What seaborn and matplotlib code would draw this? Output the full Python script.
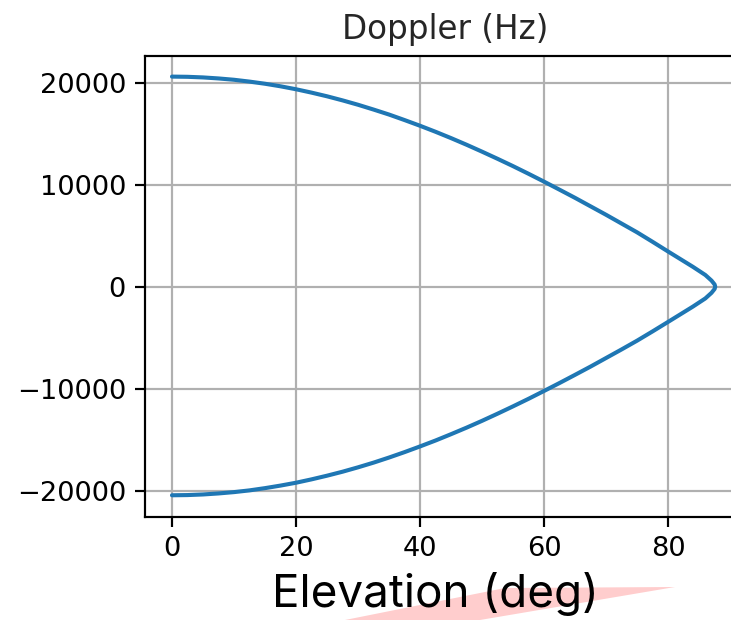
import matplotlib
matplotlib.use("Agg")
import matplotlib.pyplot as plt
from matplotlib.patches import Polygon
import pandas as pd
import seaborn as sns

# Satellite pass: elevation angle vs. Doppler shift, in time order
# (rising half first, then the setting half after the peak elevation).
elevation_deg = [0, 2.5, 5, 7.5, 10, 12.5, 15, 17.5, 20, 22.5, 25, 27.5, 30,
                 32.5, 35, 37.5, 40, 42.5, 45, 47.5, 50, 52.5, 55, 57.5, 60,
                 62.5, 65, 67.5, 70, 72.5, 75, 77.5, 80, 82, 84, 86, 87, 87.5,
                 87.6,
                 87.5, 87, 86, 84, 82, 80, 77.5, 75, 72.5, 70, 67.5, 65, 62.5,
                 60, 57.5, 55, 52.5, 50, 47.5, 45, 42.5, 40, 37.5, 35, 32.5,
                 30, 27.5, 25, 22.5, 20, 17.5, 15, 12.5, 10, 7.5, 5, 2.5, 0]
doppler_hz = [20600, 20580, 20520, 20420, 20290, 20110, 19900, 19650, 19360,
              19030, 18670, 18270, 17840, 17370, 16880, 16340, 15780, 15190,
              14570, 13920, 13240, 12540, 11820, 11070, 10300, 9510, 8710,
              7880, 7050, 6190, 5330, 4400, 3450, 2700, 1950, 1150, 600, 220,
              0,
              -220, -600, -1150, -1950, -2700, -3450, -4380, -5290, -6150,
              -6990, -7830, -8640, -9440, -10220, -10990, -11730, -12450,
              -13150, -13820, -14460, -15080, -15660, -16220, -16750, -17250,
              -17710, -18140, -18530, -18890, -19220, -19500, -19750, -19970,
              -20140, -20270, -20370, -20430, -20450]
x_ticks = [0, 20, 40, 60, 80]
y_ticks = [-20000, -10000, 0, 10000, 20000]

k = 1.96  # scale of the default matplotlib sizes
sns.set_theme(style="ticks")
plt.rcParams.update({
    "font.family": ["DejaVu Sans"],
    "axes.edgecolor": "black",
    "axes.linewidth": 0.8 * k,
    "xtick.major.size": 3.5 * k,
    "ytick.major.size": 3.5 * k,
    "xtick.major.width": 0.8 * k,
    "ytick.major.width": 0.8 * k,
    "xtick.major.pad": 3.5 * k,
    "ytick.major.pad": 3.5 * k,
    "xtick.labelsize": 10 * k,
    "ytick.labelsize": 10 * k,
    "xtick.color": "black",
    "ytick.color": "black",
    "axes.titlesize": 12 * k,
    "axes.titlepad": 6 * k,
    "grid.color": "#b0b0b0",
    "grid.linewidth": 0.8 * k,
})

W, H = 731, 620
fig = plt.figure(figsize=(W / 100, H / 100), dpi=100)
# the plot area runs on past the right edge of the canvas
ax = fig.add_axes([145 / W, 1 - 517 / H, 600 / W, (517 - 55.7) / H])

df = pd.DataFrame({"elevation": elevation_deg, "doppler": doppler_hz})
sns.lineplot(data=df, x="elevation", y="doppler", sort=False, estimator=None,
             color="#1f77b4", linewidth=1.5 * k, ax=ax)

ax.set_xticks(x_ticks)
ax.set_yticks(y_ticks)
ax.set_xlim(-4.35, 92.4)
ax.set_ylim(-22580, 22650)
ax.grid(True)
ax.set_axisbelow(True)
ax.set_xlabel("")
ax.set_ylabel("")
ax.set_title("Doppler (Hz)")
for side in ("top", "left", "bottom"):
    ax.spines[side].set_visible(True)
ax.spines["right"].set_visible(False)

# highlight wedge under the axis caption
wedge = [(345, 620), (505, 588), (675, 587), (480, 620)]
fig.patches.append(Polygon([(x / W, 1 - y / H) for x, y in wedge], closed=True,
                           transform=fig.transFigure, facecolor="#ffcdcd",
                           edgecolor="none", zorder=1))

fig.text(435 / W, 1 - 607 / H, "Elevation (deg)", family=["Inter", "DejaVu Sans"],
         fontsize=33, color="black", ha="center", va="baseline", zorder=3)

fig.savefig("out.png", dpi=100, facecolor="white")
print(fig.canvas.get_width_height())
